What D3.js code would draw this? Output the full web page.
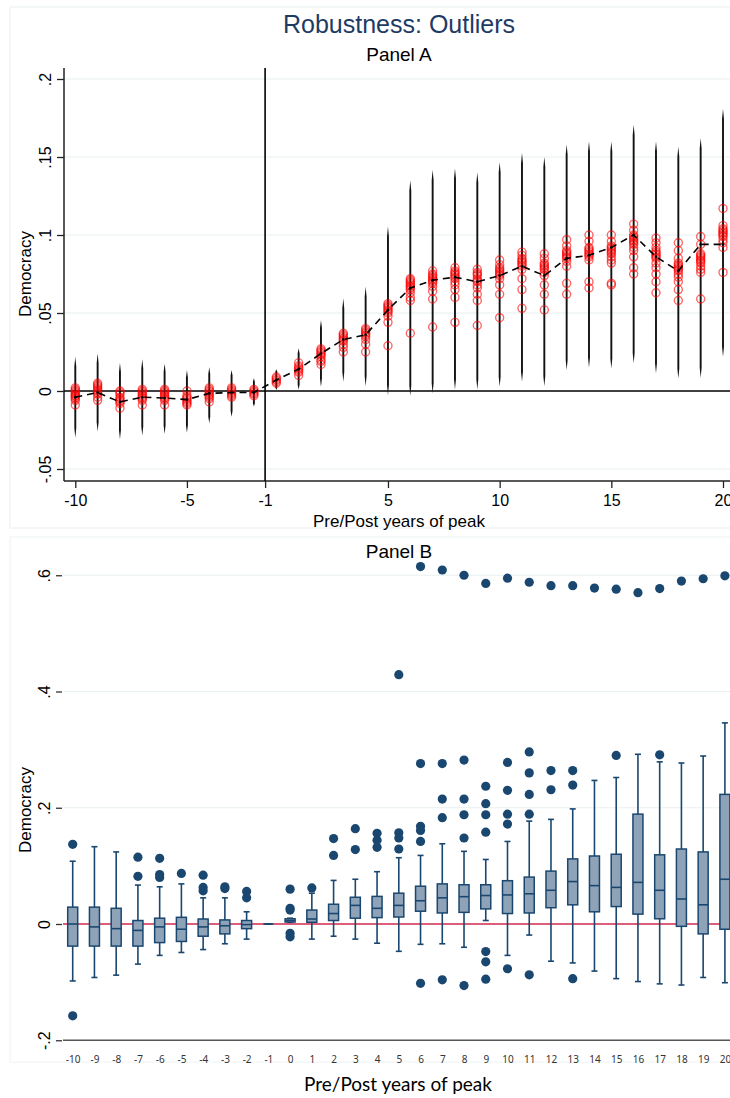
<!DOCTYPE html>
<html><head><meta charset="utf-8">
<script src="https://cdn.jsdelivr.net/npm/d3@7"></script>
<style>body{margin:0;background:#fff}svg{display:block}</style>
</head><body>
<svg id="c" width="730" height="1098"></svg>
<script>
// ---------- Panel A data ----------
const periodsA = [-10,-9,-8,-7,-6,-5,-4,-3,-2,0,1,2,3,4,5,6,7,8,9,10,11,12,13,14,15,16,17,18,19,20];
const estimateA = [-0.004,-0.001,-0.007,-0.004,-0.0045,-0.0055,-0.0015,-0.001,-0.001,0.007,0.014,0.024,0.033,0.036,0.052,0.066,0.071,0.073,0.070,0.074,0.080,0.074,0.085,0.087,0.092,0.100,0.086,0.077,0.094,0.094];
const ciLowA = [-0.030,-0.026,-0.031,-0.0286,-0.0276,-0.0267,-0.0207,-0.0165,-0.010,0.0006,0.001,0.0028,0.006,0.0032,-0.0026,-0.003,-0.0015,0.001,0.001,0.0028,0.006,0.0032,0.0135,0.015,0.0145,0.018,0.0113,0.008,0.0085,0.022];
const ciHighA = [0.022,0.024,0.018,0.0203,0.0177,0.0135,0.0152,0.0135,0.0081,0.0139,0.0274,0.0455,0.0594,0.0669,0.1055,0.135,0.1417,0.1427,0.140,0.1466,0.1525,0.150,0.158,0.160,0.160,0.1705,0.160,0.1566,0.162,0.181];
const outlierEstA = [
  [0.002,0.001,0.000,-0.001,-0.002,-0.003,-0.004,-0.005,-0.003,-0.006,-0.009],
  [0.005,0.004,0.003,0.002,0.001,0.000,-0.001,-0.002,-0.004,-0.006],
  [0.000,-0.001,-0.002,-0.004,-0.005,-0.006,-0.007,-0.008,-0.011],
  [0.001,0.000,-0.001,-0.002,-0.003,-0.004,-0.005,-0.006,-0.009],
  [0.001,0.000,-0.001,-0.002,-0.003,-0.004,-0.005,-0.006,-0.009],
  [0.000,-0.003,-0.004,-0.005,-0.006,-0.007,-0.008,-0.009],
  [0.002,0.001,0.000,-0.001,-0.002,-0.003,-0.004,-0.005,-0.007],
  [0.002,0.001,0.000,-0.001,-0.002,-0.003,-0.004],
  [0.001,0.000,-0.001,-0.002,-0.003],
  [0.009,0.008,0.007,0.006,0.005],
  [0.018,0.016,0.015,0.014,0.013,0.012,0.010],
  [0.027,0.026,0.025,0.024,0.023,0.022,0.020,0.019,0.017],
  [0.037,0.036,0.035,0.034,0.033,0.032,0.030,0.028,0.025],
  [0.040,0.039,0.038,0.037,0.036,0.035,0.033,0.030,0.025],
  [0.056,0.055,0.054,0.053,0.052,0.051,0.050,0.048,0.044,0.029],
  [0.072,0.071,0.070,0.069,0.068,0.067,0.066,0.065,0.063,0.060,0.058,0.037],
  [0.077,0.075,0.074,0.073,0.072,0.071,0.070,0.069,0.067,0.064,0.059,0.041],
  [0.079,0.077,0.076,0.075,0.074,0.073,0.072,0.070,0.068,0.065,0.060,0.044],
  [0.078,0.076,0.075,0.074,0.072,0.071,0.070,0.068,0.066,0.062,0.058,0.042],
  [0.084,0.081,0.079,0.078,0.077,0.076,0.075,0.074,0.072,0.068,0.062,0.047],
  [0.089,0.087,0.085,0.084,0.083,0.082,0.081,0.080,0.078,0.072,0.065,0.053],
  [0.088,0.085,0.082,0.081,0.080,0.079,0.078,0.076,0.074,0.068,0.062,0.052],
  [0.097,0.093,0.090,0.089,0.088,0.087,0.086,0.085,0.083,0.080,0.069,0.062],
  [0.100,0.096,0.092,0.091,0.090,0.089,0.088,0.087,0.086,0.084,0.070,0.066],
  [0.100,0.096,0.093,0.092,0.091,0.090,0.089,0.088,0.086,0.084,0.082,0.069,0.068],
  [0.107,0.103,0.100,0.099,0.098,0.097,0.096,0.095,0.094,0.092,0.090,0.086,0.079,0.075],
  [0.098,0.095,0.092,0.090,0.089,0.088,0.087,0.086,0.085,0.082,0.079,0.075,0.070,0.063],
  [0.095,0.090,0.085,0.082,0.081,0.080,0.079,0.078,0.077,0.075,0.073,0.070,0.065,0.058],
  [0.099,0.094,0.088,0.087,0.086,0.085,0.084,0.083,0.082,0.080,0.078,0.076,0.059],
  [0.117,0.106,0.104,0.103,0.102,0.101,0.100,0.099,0.097,0.095,0.092,0.076]
];
const xTicksA = [-10,-5,-1,5,10,15,20];
const yTicksA = [-0.05,0,0.05,0.1,0.15,0.2];

// ---------- Panel B data ----------
const categoriesB = [-10,-9,-8,-7,-6,-5,-4,-3,-2,-1,0,1,2,3,4,5,6,7,8,9,10,11,12,13,14,15,16,17,18,19,20];
const q1B =     [-0.038,-0.038,-0.038,-0.038,-0.032,-0.030,-0.021,-0.017,-0.008,0,0.0034,0.003,0.006,0.010,0.011,0.012,0.022,0.019,0.020,0.026,0.018,0.019,0.028,0.033,0.021,0.030,0.017,0.009,-0.004,-0.017,-0.009];
const medianB = [0.000,-0.005,-0.008,-0.011,-0.005,-0.009,-0.005,-0.003,-0.001,0,0.006,0.0086,0.018,0.032,0.027,0.032,0.040,0.045,0.047,0.049,0.050,0.052,0.058,0.073,0.066,0.063,0.0716,0.058,0.043,0.033,0.077];
const q3B =     [0.029,0.029,0.027,0.006,0.010,0.0115,0.0086,0.007,0.006,0,0.009,0.024,0.034,0.046,0.0475,0.053,0.065,0.069,0.0675,0.0675,0.0745,0.0807,0.091,0.112,0.117,0.120,0.189,0.119,0.129,0.124,0.223];
const lowWhiskerB =  [-0.098,-0.092,-0.088,-0.069,-0.054,-0.049,-0.044,-0.034,-0.026,0,0.003,-0.026,-0.021,-0.026,-0.033,-0.047,-0.035,-0.034,-0.040,0.006,-0.054,-0.019,-0.064,-0.067,-0.081,-0.094,-0.099,-0.103,-0.105,-0.092,-0.101];
const highWhiskerB = [0.108,0.133,0.124,0.067,0.064,0.069,0.045,0.045,0.021,0,0.010,0.053,0.075,0.077,0.090,0.114,0.118,0.138,0.125,0.111,0.142,0.177,0.180,0.198,0.247,0.252,0.292,0.279,0.277,0.289,0.346];
const outliersB = [
  [0.137,-0.158],[],[],[0.115,0.082],[0.113,0.085,0.080],[0.087],[0.084,0.063,0.057],[0.064,0.061],[0.056,0.045],[],
  [0.060,0.027,0.024,-0.016,-0.022],[0.062],[0.147,0.118],[0.164,0.128],[0.156,0.144,0.132],[0.157,0.148,0.129,0.429],
  [0.168,0.161,0.142,0.276,-0.102,0.615],[0.183,0.215,0.276,-0.096,0.609],[0.148,0.188,0.215,0.282,-0.106,0.600],
  [0.158,0.188,0.207,0.237,-0.0475,-0.065,-0.095,0.586],[0.172,0.189,0.230,0.278,-0.077,0.595],
  [0.189,0.223,0.260,0.296,-0.0875,0.588],[0.231,0.264,0.582],[0.239,0.264,-0.094,0.582],[0.578],[0.290,0.576],
  [0.570],[0.291,0.577],[0.590],[0.594],[0.599]
];
const yTicksB = [-0.2,0,0.2,0.4,0.6];

// ---------- drawing ----------
const svg = d3.select("#c");
const fmt = v => v === 0 ? "0" : String(+v.toFixed(3)).replace(/^(-?)0\./, "$1.");
const grid = "#e8eff1", navy = "#1a476f";
const fontA = "'Liberation Sans', Arial, sans-serif";

// region borders
svg.append("rect").attr("x",10).attr("y",7).attr("width",740).attr("height",521).attr("fill","none").attr("stroke","#e9eff2");
svg.append("rect").attr("x",10).attr("y",537).attr("width",740).attr("height",525).attr("fill","none").attr("stroke","#eef3f5");

// titles
svg.append("text").attr("x",399).attr("y",33).attr("text-anchor","middle").attr("font-family",fontA).attr("font-size",25).attr("fill","#1e3b64").text("Robustness: Outliers");
svg.append("text").attr("x",399).attr("y",61).attr("text-anchor","middle").attr("font-family",fontA).attr("font-size",19).attr("fill","#000").text("Panel A");

// Panel A scales
const xA = d3.scaleLinear().domain([-10,-2,0,20]).range([75.3,253.9,276.3,723]);
const yA = d3.scaleLinear().domain([-0.05,0.2]).range([469,79]);
const gA = svg.append("g");
const leftA = 64, rightA = 730, topA = 68, botA = 481;

gA.selectAll("line.grid").data(yTicksA.filter(d => d !== 0)).join("line")
  .attr("x1",leftA).attr("x2",rightA).attr("y1",d=>yA(d)).attr("y2",d=>yA(d))
  .attr("stroke",grid).attr("stroke-width",1.2);

// axes
const axLeftA = gA.append("g").attr("transform",`translate(${leftA},0)`)
  .call(d3.axisLeft(yA).tickValues(yTicksA).tickFormat(fmt).tickSize(7).tickPadding(4));
axLeftA.select(".domain").remove();
axLeftA.append("line").attr("x1",0).attr("x2",0).attr("y1",topA).attr("y2",botA).attr("stroke","#222").attr("stroke-width",1.5);
axLeftA.selectAll(".tick line").attr("stroke","#222").attr("stroke-width",1.3);
axLeftA.selectAll(".tick text").attr("font-family",fontA).attr("font-size",16).attr("fill","#000")
  .attr("transform","rotate(-90)").attr("x",0).attr("y",-13).attr("dy",0).attr("text-anchor","middle");

const axBotA = gA.append("g").attr("transform",`translate(0,${botA})`)
  .call(d3.axisBottom(xA).tickValues(xTicksA).tickFormat(d=>String(d)).tickSize(7).tickPadding(4));
axBotA.select(".domain").remove();
axBotA.append("line").attr("x1",leftA).attr("x2",rightA).attr("y1",0).attr("y2",0).attr("stroke","#222").attr("stroke-width",1.5);
axBotA.selectAll(".tick line").attr("stroke","#222").attr("stroke-width",1.3);
axBotA.selectAll(".tick text").attr("font-family",fontA).attr("font-size",16).attr("fill","#000").attr("dy","0.9em");

gA.append("text").attr("transform","translate(31,274) rotate(-90)").attr("text-anchor","middle")
  .attr("font-family",fontA).attr("font-size",17).text("Democracy");
gA.append("text").attr("x",399).attr("y",527).attr("text-anchor","middle")
  .attr("font-family",fontA).attr("font-size",17).text("Pre/Post years of peak");

// reference lines
gA.append("line").attr("x1",leftA).attr("x2",rightA).attr("y1",yA(0)).attr("y2",yA(0)).attr("stroke","#000").attr("stroke-width",1.6);
gA.append("line").attr("x1",xA(-1)).attr("x2",xA(-1)).attr("y1",topA).attr("y2",botA).attr("stroke","#000").attr("stroke-width",1.6);

// CI spindles (thin, tapering at the ends)
const rowsA = periodsA.map((p,i)=>({p, est:estimateA[i], lo:ciLowA[i], hi:ciHighA[i], outs:outlierEstA[i]}));
gA.selectAll("path.ci").data(rowsA).join("path")
  .attr("d", d => {
    const x = xA(d.p), y1 = yA(d.hi), y2 = yA(d.lo), L = y2 - y1, t = Math.min(L*0.12, 10), w = 0.95;
    return `M${x},${y1} L${x+w},${y1+t} L${x+w},${y2-t} L${x},${y2} L${x-w},${y2-t} L${x-w},${y1+t} Z`;
  })
  .attr("fill","#111");

// red circles
rowsA.forEach(d => {
  gA.selectAll(null).data(d.outs).join("circle")
    .attr("cx", xA(d.p)).attr("cy", v => yA(v)).attr("r",4)
    .attr("fill","none").attr("stroke","#ff0000").attr("stroke-opacity",0.6).attr("stroke-width",1.4);
});

// dashed line of estimates
gA.append("path").datum(rowsA)
  .attr("d", d3.line().x(d=>xA(d.p)).y(d=>yA(d.est)))
  .attr("fill","none").attr("stroke","#000").attr("stroke-width",1.6).attr("stroke-dasharray","7,5");
gA.selectAll("circle.est").data(rowsA).join("circle")
  .attr("cx",d=>xA(d.p)).attr("cy",d=>yA(d.est)).attr("r",1.3).attr("fill","#000");

// ---------- Panel B ----------
svg.append("text").attr("x",399).attr("y",558).attr("text-anchor","middle").attr("font-family",fontA).attr("font-size",19).attr("fill","#000").text("Panel B");

const xB = d3.scalePoint().domain(categoriesB).range([72.7,724.9]);
const yB = d3.scaleLinear().domain([-0.2,0.6]).range([1040.25,575.25]);
const gB = svg.append("g");
const leftB = 63, rightB = 730;

gB.selectAll("line.grid").data(yTicksB.filter(d=>d>0)).join("line")
  .attr("x1",leftB).attr("x2",rightB).attr("y1",d=>yB(d)).attr("y2",d=>yB(d))
  .attr("stroke",grid).attr("stroke-width",1.2);

const axLeftB = gB.append("g").attr("transform",`translate(${leftB-1},0)`)
  .call(d3.axisLeft(yB).tickValues(yTicksB).tickFormat(fmt).tickSize(6).tickPadding(4));
axLeftB.select(".domain").remove();
axLeftB.selectAll(".tick line").attr("stroke","#333").attr("stroke-width",1.3);
axLeftB.selectAll(".tick text").attr("font-family",fontA).attr("font-size",16).attr("fill","#000")
  .attr("transform","rotate(-90)").attr("x",0).attr("y",-12).attr("dy",0).attr("text-anchor","middle");

gB.append("line").attr("x1",leftB).attr("x2",rightB).attr("y1",yB(-0.2)).attr("y2",yB(-0.2)).attr("stroke","#555").attr("stroke-width",1.6);
const axBotB = gB.append("g").attr("transform",`translate(0,${yB(-0.2)})`)
  .call(d3.axisBottom(xB).tickSize(0).tickPadding(16));
axBotB.select(".domain").remove();
axBotB.selectAll(".tick text").attr("font-family","'Noto Sans', Arial, sans-serif").attr("font-size",10).attr("fill","#333");

gB.append("text").attr("transform","translate(31,810) rotate(-90)").attr("text-anchor","middle")
  .attr("font-family",fontA).attr("font-size",17).text("Democracy");
gB.append("text").attr("x",398).attr("y",1091).attr("text-anchor","middle")
  .attr("font-family","Lato, 'Open Sans', sans-serif").attr("font-size",19).text("Pre/Post years of peak");

// zero line
gB.append("line").attr("x1",leftB).attr("x2",rightB).attr("y1",yB(0)).attr("y2",yB(0)).attr("stroke","#d0284c").attr("stroke-width",1.6);

const rowsB = categoriesB.map((c,i)=>({c, q1:q1B[i], med:medianB[i], q3:q3B[i], lo:lowWhiskerB[i], hi:highWhiskerB[i], outs:outliersB[i]}));
const bw = 10, cw = 6;
const boxes = gB.selectAll("g.box").data(rowsB).join("g").attr("transform",d=>`translate(${xB(d.c)},0)`);
boxes.append("line").attr("y1",d=>yB(d.hi)).attr("y2",d=>yB(d.q3)).attr("stroke",navy).attr("stroke-width",1.6);
boxes.append("line").attr("y1",d=>yB(d.q1)).attr("y2",d=>yB(d.lo)).attr("stroke",navy).attr("stroke-width",1.6);
boxes.append("line").attr("x1",-cw/2).attr("x2",cw/2).attr("y1",d=>yB(d.hi)).attr("y2",d=>yB(d.hi)).attr("stroke",navy).attr("stroke-width",1.6);
boxes.append("line").attr("x1",-cw/2).attr("x2",cw/2).attr("y1",d=>yB(d.lo)).attr("y2",d=>yB(d.lo)).attr("stroke",navy).attr("stroke-width",1.6);
boxes.append("rect").attr("x",-bw/2).attr("width",bw).attr("y",d=>yB(d.q3)).attr("height",d=>Math.max(0,yB(d.q1)-yB(d.q3)))
  .attr("fill","#8fa3b8").attr("stroke",navy).attr("stroke-width",1.5);
boxes.append("line").attr("x1",-bw/2).attr("x2",bw/2).attr("y1",d=>yB(d.med)).attr("y2",d=>yB(d.med)).attr("stroke",navy).attr("stroke-width",1.6);
boxes.each(function(d){
  d3.select(this).selectAll("circle").data(d.outs).join("circle")
    .attr("cx",0).attr("cy",v=>yB(v)).attr("r",4.6).attr("fill",navy);
});
</script>
</body></html>
